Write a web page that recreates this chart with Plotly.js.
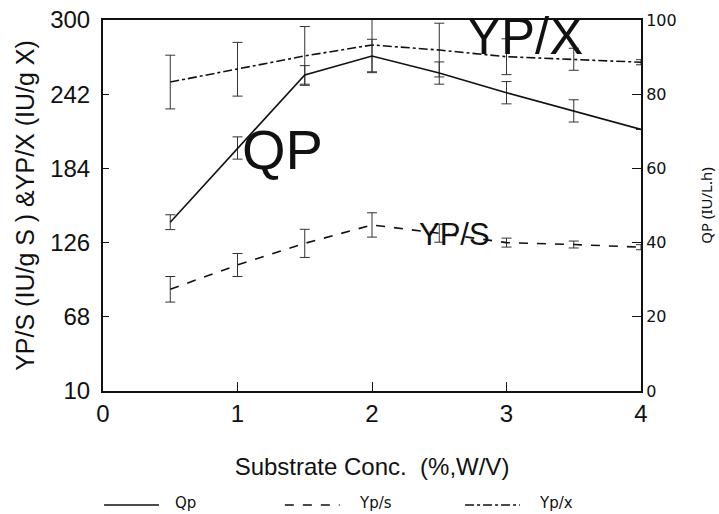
<!DOCTYPE html>
<html>
<head>
<meta charset="utf-8">
<script src="https://cdn.plot.ly/plotly-3.0.1.min.js"></script>
<style>html,body{margin:0;padding:0;background:#fff;}#chart{width:719px;height:514px;}</style>
</head>
<body>
<div id="chart"></div>
<script>
// Substrate concentration (%, W/V)
var conc = [0.5, 1, 1.5, 2, 2.5, 3, 3.5, 4];
// Qp (IU/L.h) — right axis
var qp    = [45.5, 65.5, 85.2, 90.3, 85.7, 80.4, 75.5, 70.5];
var qpErr = [2, 3, 2.5, 4.5, 3, 3, 3, 0];
// Yp/s (IU/g S) — left axis
var yps    = [89.5, 108.5, 125.4, 139.8, 133.3, 126.0, 124.5, 122.4];
var ypsErr = [10, 9, 11, 9.5, 7, 3.5, 2.7, 2];
// Yp/x (IU/g X) — left axis
var ypx    = [251.5, 261.5, 271.9, 280.5, 276.5, 271.3, 269.3, 267.0];
var ypxErr = [21, 21, 23, 21, 21, 14, 8.6, 2];

var leftTicks = [10, 68, 126, 184, 242, 300];
var rightTicks = [0, 20, 40, 60, 80, 100];
var xTicks = [0, 1, 2, 3, 4];

var sans = 'Liberation Sans, Arial, sans-serif';
var ink = '#111';

function errStyle(arr) {
  return {type: 'data', array: arr, visible: true, color: '#333', thickness: 1, width: 5};
}

var traces = [
  {x: conc, y: qp, yaxis: 'y2', name: 'Qp', mode: 'lines',
   line: {color: ink, width: 1.6, dash: 'solid'}, error_y: errStyle(qpErr)},
  {x: conc, y: yps, name: 'Yp/s', mode: 'lines',
   line: {color: ink, width: 1.6, dash: 'dash'}, error_y: errStyle(ypsErr)},
  {x: conc, y: ypx, name: 'Yp/x', mode: 'lines',
   line: {color: ink, width: 1.6, dash: 'dashdot'}, error_y: errStyle(ypxErr)}
];

// manual legend (paper coordinates)
var legendY = -0.307;
var legendTextY = -0.302;
var legendItems = [
  {label: 'Qp', x0: 0.002, x1: 0.104, tx: 0.130, dash: 'solid'},
  {label: 'Yp/s', x0: 0.338, x1: 0.440, tx: 0.472, dash: 'dash'},
  {label: 'Yp/x', x0: 0.673, x1: 0.775, tx: 0.806, dash: 'dashdot'}
];
var shapes = legendItems.map(function (it) {
  return {type: 'line', xref: 'paper', yref: 'paper', x0: it.x0, x1: it.x1, y0: legendY, y1: legendY,
          line: {color: ink, width: 1.5, dash: it.dash}};
});
var annotations = legendItems.map(function (it) {
  return {xref: 'paper', yref: 'paper', x: it.tx, y: legendTextY, xanchor: 'left', yanchor: 'middle',
          text: it.label, showarrow: false, font: {family: 'DejaVu Sans, sans-serif', size: 15, color: ink}};
});
annotations.push(
  {xref: 'x', yref: 'y', x: 1.335, y: 198.4, text: 'QP', showarrow: false,
   font: {family: sans, size: 56, color: ink}},
  {xref: 'x', yref: 'y', x: 3.137, y: 287, text: 'YP/X', showarrow: false,
   font: {family: sans, size: 51, color: ink}},
  {xref: 'x', yref: 'y', x: 2.617, y: 132.7, text: 'YP/S', showarrow: false,
   font: {family: sans, size: 31, color: ink}}
);

var layout = {
  width: 719, height: 514,
  margin: {l: 103, r: 78, t: 20, b: 123},
  paper_bgcolor: '#fff', plot_bgcolor: '#fff',
  showlegend: false,
  xaxis: {
    range: [0, 4], tickvals: xTicks, ticktext: xTicks.map(String),
    ticks: 'inside', ticklen: 9, tickcolor: ink, tickwidth: 1,
    showline: true, linecolor: ink, linewidth: 2, mirror: true,
    showgrid: false, zeroline: false,
    tickfont: {family: sans, size: 24, color: ink},
    title: {text: 'Substrate Conc.  (%,W/V)', font: {family: sans, size: 24, color: ink}, standoff: 32}
  },
  yaxis: {
    range: [10, 300], tickvals: leftTicks, ticktext: leftTicks.map(String),
    ticks: 'inside', ticklen: 6, tickcolor: ink, tickwidth: 1,
    showline: true, linecolor: ink, linewidth: 2,
    showgrid: false, zeroline: false,
    tickfont: {family: sans, size: 24, color: ink},
    ticklabelstandoff: 6,
    title: {text: 'YP/S (IU/g S ) &YP/X (IU/g X)', font: {family: sans, size: 25, color: ink}, standoff: 8}
  },
  yaxis2: {
    range: [0, 100], tickvals: rightTicks, ticktext: rightTicks.map(String),
    overlaying: 'y', side: 'right',
    ticks: 'inside', ticklen: 9, tickcolor: ink, tickwidth: 1,
    showline: true, linecolor: ink, linewidth: 2,
    showgrid: false, zeroline: false,
    tickfont: {family: 'DejaVu Sans, sans-serif', size: 16, color: ink},
    title: {text: 'QP (IU/L.h)', font: {family: 'Noto Sans, sans-serif', size: 15, color: ink}, standoff: 26}
  },
  shapes: shapes,
  annotations: annotations
};

Plotly.newPlot('chart', traces, layout, {displayModeBar: false, staticPlot: true});
</script>
</body>
</html>
